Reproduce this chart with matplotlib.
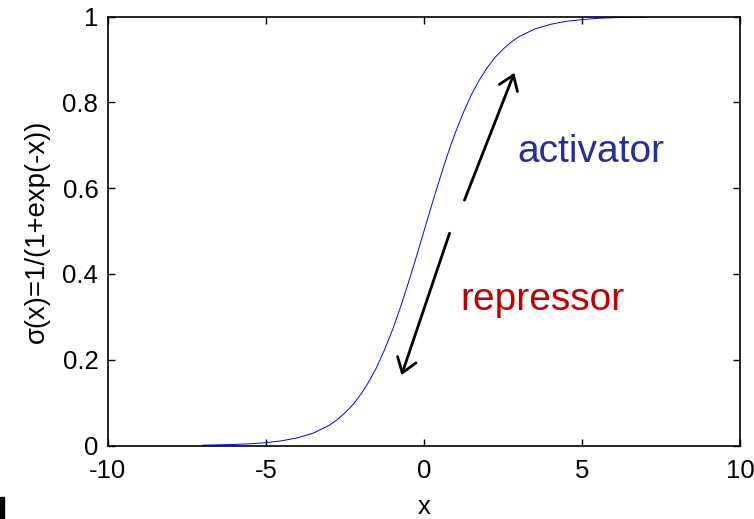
import matplotlib
matplotlib.use("Agg")
import matplotlib.pyplot as plt
from matplotlib.patches import Rectangle

# sigma(x)
x_vals = [-7.0, -6.5, -6.0, -5.5, -5.0, -4.5, -4.0, -3.5, -3.0, -2.75, -2.5,
          -2.25, -2.0, -1.75, -1.5, -1.25, -1.0, -0.75, -0.5, -0.25, 0.0,
          0.25, 0.5, 0.75, 1.0, 1.25, 1.5, 1.75, 2.0, 2.25, 2.5, 2.75, 3.0,
          3.5, 4.0, 4.5, 5.0, 5.5, 6.0, 6.5, 7.0]
y_vals = [0.001, 0.0015, 0.0025, 0.004, 0.0067, 0.011, 0.018, 0.029, 0.047,
          0.060, 0.076, 0.095, 0.119, 0.148, 0.182, 0.223, 0.269, 0.321,
          0.378, 0.438, 0.5, 0.562, 0.622, 0.679, 0.731, 0.777, 0.818,
          0.852, 0.881, 0.905, 0.924, 0.940, 0.953, 0.971, 0.982, 0.989,
          0.993, 0.996, 0.9975, 0.9985, 0.999]

x_ticks = [-10, -5, 0, 5, 10]
y_ticks = [0, 0.2, 0.4, 0.6, 0.8, 1]
y_ticklabels = ["0", "0.2", "0.4", "0.6", "0.8", "1"]

# arrows: (tail, head) in data units
act_arrow = ((1.28, 0.572), (2.86, 0.869))
rep_arrow = ((0.81, 0.495), (-0.71, 0.164))

plt.rcParams["font.family"] = ["Liberation Sans", "DejaVu Sans"]

fig = plt.figure(figsize=(7.54, 5.19), dpi=100)
ax = fig.add_axes([0.1432, 0.1416, 0.8382, 0.8264])

ax.plot(x_vals, y_vals, color="#0000ff", lw=0.7)

ax.set_xlim(-10, 10)
ax.set_ylim(0, 1)
ax.set_xticks(x_ticks)
ax.set_xticklabels([str(t) for t in x_ticks])
ax.set_yticks(y_ticks)
ax.set_yticklabels(y_ticklabels)
ax.tick_params(direction="in", length=5, width=1, labelsize=18.5,
               top=True, right=True)
ax.tick_params(axis="x", pad=10)
ax.tick_params(axis="y", pad=7)
for s in ax.spines.values():
    s.set_linewidth(1.2)

ax.set_xlabel("x", fontsize=18.5, labelpad=8)
ax.set_ylabel("σ(x)=1/(1+exp(-x))", fontsize=19.8, labelpad=9)

for (tail, head) in (act_arrow, rep_arrow):
    ax.annotate("", xy=head, xytext=tail,
                arrowprops=dict(arrowstyle="->,head_length=0.5,head_width=0.35",
                                lw=2, color="black", mutation_scale=20,
                                shrinkA=0, shrinkB=0))

ax.text(2.95, 0.685, "activator", color="#2b2b99", fontsize=28,
        ha="left", va="center")
ax.text(1.15, 0.339, "repressor", color="#c00000", fontsize=28,
        ha="left", va="center")

# cut-off panel mark at bottom-left
fig.patches.append(Rectangle((0, 0), 4 / 754, 22 / 519, transform=fig.transFigure,
                             color="black", zorder=5))

fig.savefig("out.png", dpi=100)
